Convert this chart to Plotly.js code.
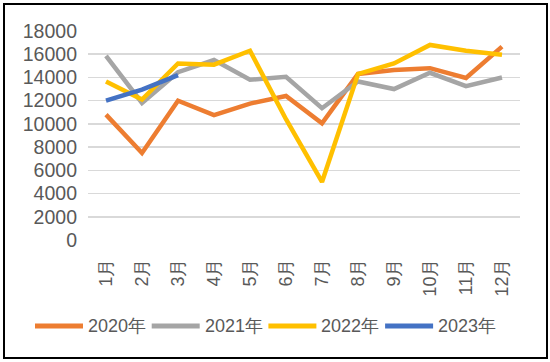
<!DOCTYPE html>
<html>
<head>
<meta charset="utf-8">
<script src="https://cdn.plot.ly/plotly-3.0.1.min.js"></script>
<style>
  html, body { margin: 0; padding: 0; background: #fff; }
  #wrap { position: relative; width: 550px; height: 362px; }
  #chart { position: absolute; left: 0; top: 0; width: 550px; height: 362px; }
  #frame { position: absolute; left: 3px; top: 3px; width: 541px; height: 352px; border: 2px solid #000; pointer-events: none; }
</style>
</head>
<body>
<div id="wrap"><div id="chart"></div><div id="frame"></div></div>
<script>
const months = ['1月','2月','3月','4月','5月','6月','7月','8月','9月','10月','11月','12月'];
const seriesNames = ['2020年','2021年','2022年','2023年'];
const y2020 = [10800, 7500, 12000, 10750, 11750, 12400, 10050, 14300, 14650, 14800, 13950, 16650];
const y2021 = [15850, 11800, 14450, 15500, 13800, 14050, 11350, 13650, 13000, 14400, 13250, 14000];
const y2022 = [13650, 12100, 15200, 15100, 16300, 10400, 5000, 14300, 15200, 16800, 16300, 15950];
const y2023 = [12000, 12950, 14200];
const yTicks = [0, 2000, 4000, 6000, 8000, 10000, 12000, 14000, 16000, 18000];

const colors = ['#ED7D31', '#A5A5A5', '#FFC000', '#4472C4'];
const allY = [y2020, y2021, y2022, y2023];

const traces = allY.map((ys, i) => ({
  type: 'scatter',
  mode: 'lines',
  name: seriesNames[i],
  x: months.slice(0, ys.length),
  y: ys,
  line: { color: colors[i], width: 4.5 },
  showlegend: false
}));

const font = { family: 'Liberation Sans, Arial, sans-serif', size: 18, color: '#595959' };

// Legend drawn manually (long line samples like the original)
const L = 88, W = 432, T = 31, H = 209;
const px2x = p => (p - L) / W;
const px2y = p => (T + H - p) / H;
const legStart = 35, legStep = 116.7, sampleLen = 48, legY = 326;
const shapes = [];
const annotations = [];
seriesNames.forEach((n, i) => {
  const x0 = legStart + i * legStep;
  shapes.push({
    type: 'line', xref: 'paper', yref: 'paper',
    x0: px2x(x0), x1: px2x(x0 + sampleLen), y0: px2y(legY), y1: px2y(legY),
    line: { color: colors[i], width: 5 }
  });
  annotations.push({
    xref: 'paper', yref: 'paper', x: px2x(x0 + sampleLen + 3), y: px2y(legY),
    xanchor: 'left', yanchor: 'middle', showarrow: false, text: n, font: font
  });
});

const layout = {
  width: 550, height: 362,
  margin: { l: L, r: 550 - L - W, t: T, b: 362 - T - H },
  paper_bgcolor: '#fff', plot_bgcolor: '#fff',
  font: font,
  showlegend: false,
  shapes: shapes,
  annotations: annotations,
  xaxis: {
    type: 'category', categoryorder: 'array', categoryarray: months,
    range: [-0.5, 11.5], tickangle: -90, showgrid: false, zeroline: false,
    showline: false, ticks: '', tickfont: font, ticklabelstandoff: 14, fixedrange: true
  },
  yaxis: {
    range: [0, 18000], tickvals: yTicks, ticktext: yTicks.map(String),
    showgrid: true, gridcolor: '#D9D9D9', gridwidth: 1.5, zeroline: false,
    showline: false, ticks: '', tickfont: Object.assign({}, font, { size: 19.5 }),
    ticklabelstandoff: 10, fixedrange: true
  }
};

Plotly.newPlot('chart', traces, layout, { displayModeBar: false, staticPlot: true });
</script>
</body>
</html>
